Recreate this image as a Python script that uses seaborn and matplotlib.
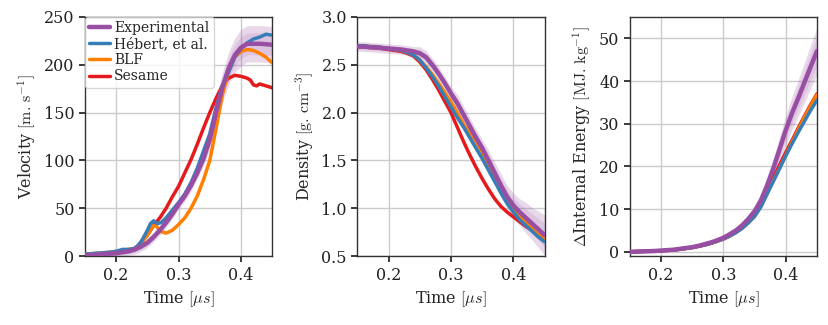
import numpy as np
import pandas as pd
import matplotlib
matplotlib.use("Agg")
import matplotlib.pyplot as plt
import seaborn as sns

# common time grid (microseconds)
t_grid = [0.15, 0.16, 0.17, 0.18, 0.19, 0.20, 0.21, 0.22, 0.23, 0.24,
          0.25, 0.26, 0.27, 0.28, 0.29, 0.30, 0.31, 0.32, 0.33, 0.34,
          0.35, 0.36, 0.37, 0.38, 0.39, 0.40, 0.41, 0.42, 0.43, 0.44, 0.45]

# Velocity [m/s]
vel_exp = [1, 1, 1.5, 2, 2.5, 3, 4, 5, 7, 10, 14, 20, 27, 35, 44, 54, 63, 74, 87, 102,
           122, 150, 176, 196, 210, 218, 222, 222, 222, 221.5, 221]
vel_exp_err = [4, 4, 4, 4, 4, 4, 4, 4, 5, 5, 5, 5, 5, 5, 5, 5, 6, 6, 6, 7,
               10, 14, 16, 17, 18, 19, 19, 19, 19, 19, 19]
vel_hebert_t = [0.15, 0.17, 0.19, 0.20, 0.21, 0.22, 0.23, 0.235, 0.24, 0.25, 0.255, 0.26,
                0.266, 0.272, 0.28, 0.29, 0.30, 0.31, 0.32, 0.33, 0.34, 0.35, 0.36, 0.37,
                0.38, 0.39, 0.40, 0.41, 0.42, 0.43, 0.44, 0.45]
vel_hebert = [2, 3, 4, 5, 7, 7, 8, 11, 15, 27, 34, 37, 34, 35, 40, 48, 56, 65, 77, 92,
              110, 128, 155, 178, 192, 208, 217, 223, 227, 229, 232, 231]
vel_blf_t = [0.15, 0.17, 0.19, 0.20, 0.21, 0.22, 0.23, 0.24, 0.25, 0.26, 0.265, 0.27,
             0.28, 0.29, 0.30, 0.31, 0.32, 0.33, 0.34, 0.35, 0.36, 0.37, 0.38, 0.39,
             0.40, 0.41, 0.42, 0.43, 0.44, 0.45]
vel_blf = [2, 3, 4, 5, 6, 7, 8, 13, 22, 32, 31, 26, 24, 27, 33, 40, 50, 63, 80, 100,
           133, 168, 193, 208, 214, 216, 215, 212, 208, 202]
vel_sesame_t = [0.15, 0.17, 0.19, 0.20, 0.21, 0.22, 0.23, 0.235, 0.24, 0.25, 0.26, 0.27,
                0.28, 0.29, 0.30, 0.31, 0.32, 0.33, 0.34, 0.35, 0.36, 0.37, 0.38, 0.39,
                0.40, 0.41, 0.415, 0.42, 0.425, 0.43, 0.44, 0.45]
vel_sesame = [1, 2, 3, 4, 5, 6, 8, 11, 15, 22, 32, 40, 50, 62, 73, 87, 101, 117, 134, 150,
              165, 178, 186, 189, 188, 186, 184, 179, 178, 180, 178, 176]

# Density [g/cm3]
den_exp = [2.69, 2.69, 2.685, 2.68, 2.675, 2.67, 2.665, 2.66, 2.65, 2.64, 2.62, 2.58, 2.50,
           2.41, 2.31, 2.20, 2.10, 1.98, 1.86, 1.74, 1.63, 1.50, 1.37, 1.24, 1.12, 1.03,
           0.96, 0.90, 0.84, 0.78, 0.72]
den_exp_err = [0.05, 0.05, 0.05, 0.05, 0.05, 0.05, 0.05, 0.05, 0.05, 0.05, 0.07, 0.07, 0.07,
               0.07, 0.07, 0.07, 0.09, 0.09, 0.09, 0.09, 0.09, 0.11, 0.11, 0.12, 0.12, 0.13,
               0.14, 0.16, 0.17, 0.19, 0.21]
den_hebert = [2.70, 2.70, 2.69, 2.69, 2.68, 2.67, 2.66, 2.65, 2.63, 2.60, 2.55, 2.47, 2.38,
              2.28, 2.17, 2.06, 1.95, 1.85, 1.74, 1.63, 1.52, 1.40, 1.28, 1.16, 1.05, 0.96,
              0.88, 0.82, 0.76, 0.70, 0.65]
den_blf = [2.70, 2.70, 2.69, 2.69, 2.68, 2.67, 2.66, 2.65, 2.63, 2.60, 2.55, 2.48, 2.40,
           2.31, 2.21, 2.11, 2.00, 1.88, 1.79, 1.70, 1.58, 1.46, 1.34, 1.22, 1.10, 1.00,
           0.92, 0.85, 0.79, 0.73, 0.68]
den_sesame = [2.69, 2.69, 2.68, 2.68, 2.67, 2.66, 2.65, 2.64, 2.62, 2.59, 2.53, 2.45, 2.35,
              2.24, 2.12, 2.00, 1.85, 1.70, 1.56, 1.43, 1.31, 1.20, 1.10, 1.02, 0.96, 0.91,
              0.86, 0.81, 0.77, 0.72, 0.68]

# Internal energy change [MJ/kg]
ene_exp = [0.0, 0.05, 0.1, 0.15, 0.2, 0.3, 0.4, 0.5, 0.7, 0.9, 1.1, 1.4, 1.8, 2.2, 2.7,
           3.3, 4.1, 5.0, 6.2, 7.7, 9.5, 12.0, 15.5, 19.5, 24.0, 28.5, 32.5, 36.0, 39.7,
           43.4, 47.0]
ene_exp_err = [0.4, 0.4, 0.4, 0.4, 0.4, 0.4, 0.4, 0.4, 0.4, 0.4, 0.4, 0.4, 0.4, 0.4, 0.4,
               0.4, 0.5, 0.6, 0.8, 1.0, 1.3, 1.7, 2.1, 2.6, 3.0, 3.5, 3.9, 4.3, 4.7, 5.1, 5.5]
ene_hebert = [0.0, 0.05, 0.1, 0.15, 0.2, 0.25, 0.35, 0.45, 0.6, 0.8, 1.0, 1.3, 1.6, 2.0,
              2.5, 3.0, 3.7, 4.5, 5.5, 6.8, 8.3, 10.5, 13.5, 16.5, 19.5, 22.5, 25.3, 28.0,
              30.6, 33.2, 35.5]
ene_blf = [0.0, 0.05, 0.1, 0.15, 0.2, 0.25, 0.35, 0.45, 0.6, 0.8, 1.0, 1.3, 1.6, 2.0,
           2.5, 3.0, 3.7, 4.5, 5.5, 6.8, 8.3, 10.6, 13.6, 16.6, 19.6, 22.6, 25.6, 28.6,
           31.5, 34.2, 36.8]
ene_sesame = [0.0, 0.05, 0.1, 0.15, 0.2, 0.25, 0.35, 0.45, 0.6, 0.8, 1.0, 1.3, 1.6, 2.0,
              2.5, 3.0, 3.7, 4.6, 5.7, 7.0, 8.6, 11.2, 14.2, 17.3, 20.3, 23.3, 26.1, 29.0,
              31.8, 34.5, 37.0]

labels = ['Experimental', 'Hébert, et al.', 'BLF', 'Sesame']
colors = ['#984ea3', '#377eb8', '#ff7f00', '#e41a1c']

sns.set_theme(style="whitegrid")
plt.rcParams['font.family'] = ['DejaVu Serif']
plt.rcParams['mathtext.fontset'] = 'cm'
plt.rcParams['axes.edgecolor'] = '#333333'
plt.rcParams['axes.linewidth'] = 1.0
plt.rcParams['grid.color'] = '#cccccc'
plt.rcParams['xtick.bottom'] = True
plt.rcParams['ytick.left'] = True
plt.rcParams['xtick.major.size'] = 4
plt.rcParams['ytick.major.size'] = 4
plt.rcParams['xtick.color'] = '#222222'
plt.rcParams['ytick.color'] = '#222222'

fig, axes = plt.subplots(1, 3, figsize=(8.29, 3.25), dpi=100)
fig.subplots_adjust(left=0.1025, right=0.9855, bottom=0.212, top=0.9477, wspace=0.455)


def draw_panel(ax, exp, err, sims, ylabel, ylim, yticks):
    exp = np.array(exp)
    err = np.array(err)
    ax.fill_between(t_grid, exp - err, exp + err, color=colors[0], alpha=0.22, lw=0, zorder=1)
    ax.fill_between(t_grid, exp - 0.6 * err, exp + 0.6 * err, color=colors[0], alpha=0.15, lw=0, zorder=1)
    sns.lineplot(x=t_grid, y=exp, ax=ax, color=colors[0], lw=3.2, label=labels[0], zorder=5)
    for (tt, yy), lab, col, z in zip(sims, labels[1:], colors[1:], [4, 3, 2]):
        sns.lineplot(x=tt, y=yy, ax=ax, color=col, lw=2.5, label=lab, zorder=z)
    ax.set_xlim(0.15, 0.45)
    ax.set_xticks([0.2, 0.3, 0.4])
    ax.set_ylim(*ylim)
    ax.set_yticks(yticks)
    ax.set_xlabel(r'Time $[\mu s]$', fontsize=11.5)
    ax.set_ylabel(ylabel, fontsize=11.5)
    ax.tick_params(labelsize=11.5)


draw_panel(axes[0], vel_exp, vel_exp_err,
           [(vel_hebert_t, vel_hebert), (vel_blf_t, vel_blf), (vel_sesame_t, vel_sesame)],
           r'Velocity $[\mathrm{m.\,s^{-1}}]$', (0, 250), [0, 50, 100, 150, 200, 250])
draw_panel(axes[1], den_exp, den_exp_err,
           [(t_grid, den_hebert), (t_grid, den_blf), (t_grid, den_sesame)],
           r'Density $[\mathrm{g.\,cm^{-3}}]$', (0.5, 3.0), [0.5, 1.0, 1.5, 2.0, 2.5, 3.0])
draw_panel(axes[2], ene_exp, ene_exp_err,
           [(t_grid, ene_hebert), (t_grid, ene_blf), (t_grid, ene_sesame)],
           r'$\Delta$Internal Energy $[\mathrm{MJ.\,kg^{-1}}]$', (-1, 55), [0, 10, 20, 30, 40, 50])

axes[0].legend(loc='upper left', fontsize=10, handlelength=1.5, handletextpad=0.3,
               borderpad=0.3, labelspacing=0.15, borderaxespad=0.0, framealpha=0.8,
               edgecolor='#cccccc')
axes[1].get_legend().remove()
axes[2].get_legend().remove()

plt.savefig('out.png', dpi=100)
